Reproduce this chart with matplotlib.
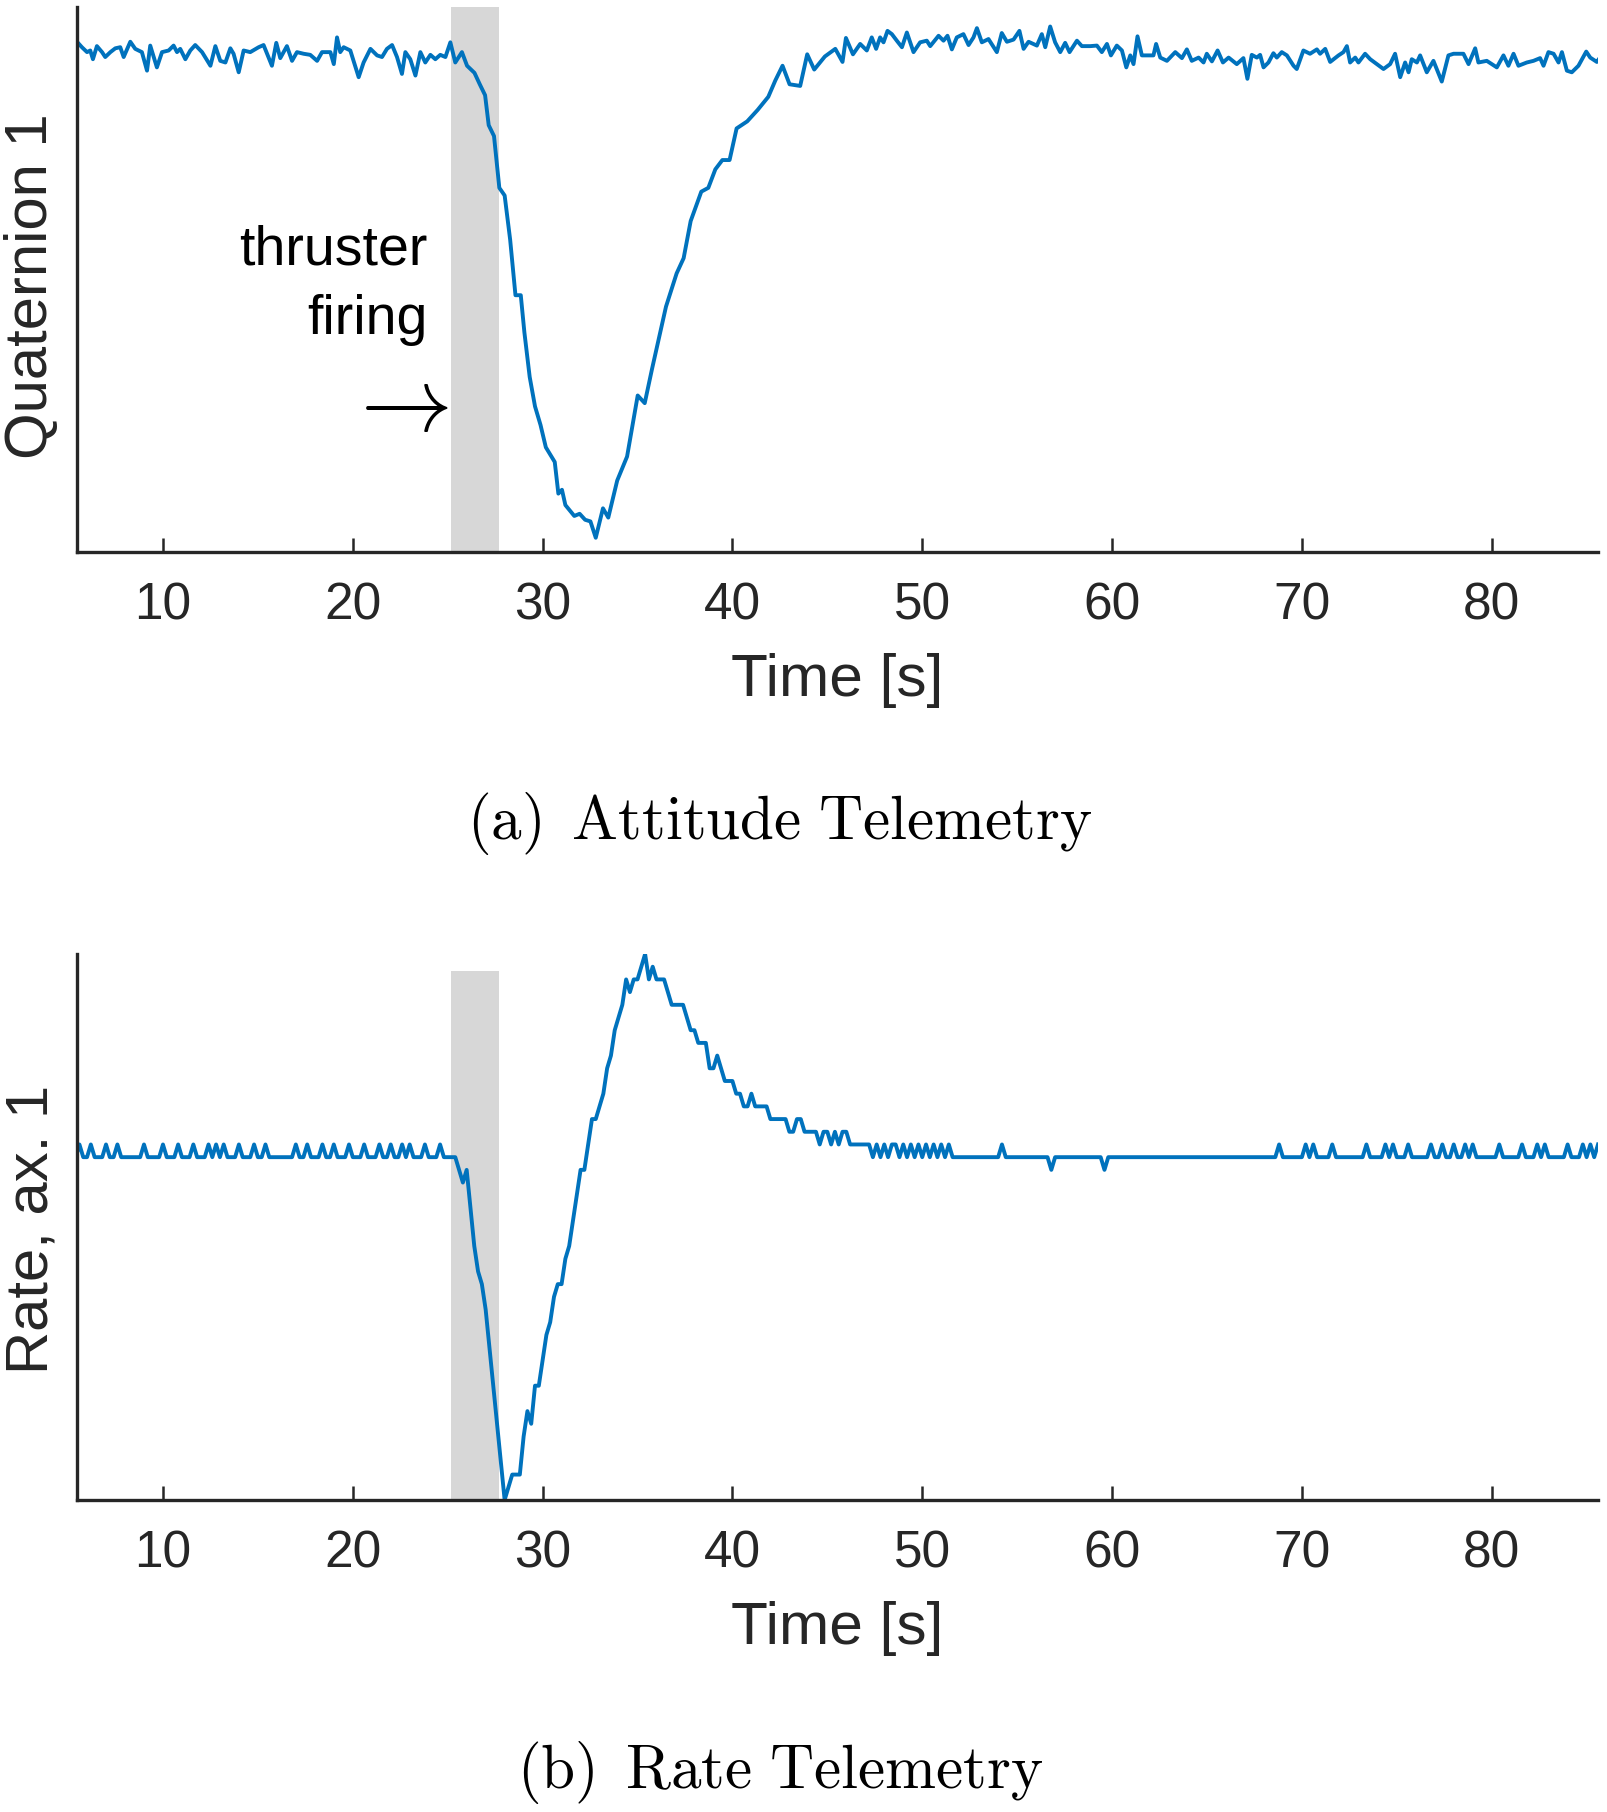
import matplotlib
matplotlib.use("Agg")
import matplotlib.pyplot as plt
import numpy as np

plt.rcParams['mathtext.fontset'] = 'cm'
plt.rcParams['font.family'] = ['Liberation Sans', 'DejaVu Sans']

# ---------------- data ----------------
x_ticks = [10, 20, 30, 40, 50, 60, 70, 80]
x_range = (5.47, 85.6)
firing_window = (25.15, 27.7)          # thruster firing interval [s]

# Attitude telemetry: quaternion 1 (arbitrary milli-units)
att_time = [
    5.47, 5.73, 6.0, 6.17, 6.31, 6.52, 6.79, 6.96, 7.23, 7.49, 7.75, 7.93, 8.28, 8.54, 8.89, 9.16,
    9.33, 9.68, 9.95, 10.3, 10.56, 10.74, 10.91, 11.18, 11.44, 11.7, 12.06, 12.5, 12.76, 13.02,
    13.29, 13.55, 13.72, 13.99, 14.25, 14.6, 15.04, 15.3, 15.74, 15.97, 16.18, 16.53, 16.8, 17.06,
    17.41, 17.76, 18.12, 18.38, 18.82, 19.0, 19.17, 19.34, 19.52, 19.87, 20.31, 20.57, 20.93,
    21.28, 21.54, 21.8, 22.07, 22.33, 22.59, 22.77, 23.03, 23.3, 23.56, 23.82, 24.09, 24.35,
    24.61, 24.88, 25.14, 25.4, 25.75, 26.02,
    26.41, 26.69, 26.97, 27.16, 27.44, 27.72, 28.0, 28.29, 28.57, 28.85, 29.04, 29.32, 29.6,
    29.89, 30.17, 30.64, 30.83, 31.02, 31.2, 31.67, 31.95, 32.24, 32.52, 32.8, 33.18, 33.46, 33.93,
    34.45, 35.01, 35.38, 35.76, 36.5, 37.06, 37.43, 37.8, 38.36, 38.73, 39.1, 39.47, 39.85, 40.22,
    40.78, 41.33, 41.89, 42.26, 42.64, 43.01, 43.57, 43.94, 44.31, 44.87, 45.42, 45.8, 45.98, 46.35,
    46.73, 47.08, 47.34, 47.57, 47.78, 47.96, 48.17, 48.4, 48.66, 48.93, 49.19, 49.54, 49.89,
    50.24, 50.42, 50.86, 51.12, 51.33, 51.56, 51.82, 52.17, 52.44, 52.7, 52.88, 53.14, 53.49,
    53.93, 54.19, 54.46, 54.81, 55.12, 55.34, 55.6, 56.04, 56.3, 56.48, 56.74, 57.0, 57.27, 57.53,
    57.76, 58.15, 58.41, 58.85, 59.2, 59.46, 59.73, 59.94, 60.25, 60.52, 60.75, 60.96, 61.13,
    61.34, 61.57, 62.18, 62.32, 62.54, 62.89, 63.33, 63.68, 63.94, 64.2, 64.56, 64.82, 64.99,
    65.26, 65.56, 65.84, 66.14,
    66.57, 66.92, 67.13, 67.36, 67.63, 67.8, 67.98, 68.24, 68.5, 68.68, 68.94, 69.21, 69.56,
    69.73, 70.08, 70.43, 70.79, 70.96, 71.23, 71.49, 71.93, 72.19, 72.37, 72.54, 72.81, 72.98,
    73.33, 73.6, 73.95, 74.3, 74.65, 74.91, 75.18, 75.44, 75.62, 75.79, 76.06, 76.23, 76.58,
    76.93, 77.37, 77.72, 77.99, 78.51, 78.78, 79.13, 79.3, 79.74, 80.27, 80.62, 80.88, 81.15,
    81.41, 81.85, 82.2, 82.55, 82.73, 82.99, 83.26, 83.52, 83.7, 83.96, 84.22, 84.57, 84.98,
    85.19, 85.54, 85.62,
]
att_q1 = [
    936, 926, 917, 920, 904, 928, 917, 908, 917, 924, 926, 908, 936, 923, 917, 883,
    929, 889, 917, 920, 929, 917, 923, 904, 920, 930, 917, 892, 928, 901,
    898, 924, 914, 880, 920, 917, 926, 930, 892, 934, 906, 928, 901, 917,
    914, 912, 901, 917, 917, 895, 944, 917, 926, 920, 871, 898, 923,
    911, 908, 923, 930, 908, 877, 917, 904, 874, 917, 898, 912, 904,
    912, 908, 935, 898, 917, 892,
    879, 858, 838, 783, 763, 668, 654, 573, 471, 471, 403, 321, 267,
    233, 192, 165, 107, 114, 86, 66, 70, 59, 56, 26, 80, 63, 131,
    175, 287, 273, 335, 450, 511, 539, 607, 661, 668, 702, 719, 719, 777,
    790, 811, 835, 865, 892, 858, 855, 913, 885, 909, 923, 899, 943, 913,
    932, 920, 944, 923, 944, 935, 956, 950, 938, 926, 953, 917, 935,
    938, 928, 947, 938, 947, 922, 944, 950, 930, 944, 961, 935, 941,
    917, 952, 936, 940, 956, 923, 936, 929, 950, 926, 964, 935, 917, 934,
    917, 938, 928, 928, 929, 917, 932, 911, 929, 920, 889, 911, 895,
    946, 911, 911, 932, 907, 901, 917, 906, 922, 901, 907, 898, 914,
    900, 920, 898, 907,
    895, 906, 868, 912, 907, 912, 889, 898, 915, 907, 917, 911, 892,
    886, 920, 914, 922, 914, 923, 899, 911, 917, 928, 898, 907, 898,
    914, 904, 895, 886, 895, 914, 871, 898, 880, 904, 898, 911, 880,
    901, 863, 911, 914, 914, 895, 924, 898, 901, 889, 911, 892, 914,
    892, 898, 901, 906, 892, 917, 914, 898, 917, 883, 880, 892, 918,
    907, 899, 903,
]
att_ylim = (0, 1000)

# Rate telemetry: axis-1 rate in sensor counts, sampled every 0.2 s from t = 5.4 s
rate_t0 = 5.4
rate_dt = 0.2
rate_counts = [
    0, 1, 0, 0, 1, 0, 0, 0, 1, 0, 0, 1, 0, 0, 0, 0, 0, 0, 1, 0,
    0, 0, 0, 1, 0, 0, 0, 1, 0, 0, 0, 1, 0, 0, 0, 1, 0, 1, 0, 1,
    0, 0, 0, 1, 0, 0, 0, 1, 0, 0, 1, 0, 0, 0, 0, 0, 0, 0, 1, 0,
    0, 1, 0, 0, 0, 1, 0, 0, 1, 0, 0, 0, 1, 0, 0, 0, 1, 0, 0, 0,
    1, 0, 0, 1, 0, 0, 1, 0, 1, 0, 0, 0, 1, 0, 0, 0, 1, 0, 0, 0,
    0, -1, -2, -1, -4, -7, -9, -10, -12, -15, -18, -21, -24, -27, -26, -25, -25, -25, -22, -20,
    -21, -18, -18, -16, -14, -13, -11, -10, -10, -8, -7, -5, -3, -1, -1, 1, 3, 3, 4, 5,
    7, 8, 10, 11, 12, 14, 13, 14, 14, 15, 16, 14, 15, 14, 14, 14, 13, 12, 12, 12,
    12, 11, 10, 10, 9, 9, 9, 7, 7, 8, 7, 6, 6, 6, 5, 5, 4, 4, 5, 4,
    4, 4, 4, 3, 3, 3, 3, 3, 2, 2, 3, 3, 2, 2, 2, 2, 1, 2, 2, 1,
    2, 1, 2, 2, 1, 1, 1, 1, 1, 1, 0, 1, 0, 1, 0, 1, 1, 0, 1, 0,
    1, 0, 1, 0, 1, 0, 1, 0, 1, 0, 1, 0, 0, 0, 0, 0, 0, 0, 0, 0,
    0, 0, 0, 0, 1, 0, 0, 0, 0, 0, 0, 0, 0, 0, 0, 0, 0, -1, 0, 0,
    0, 0, 0, 0, 0, 0, 0, 0, 0, 0, 0, -1, 0, 0, 0, 0, 0, 0, 0, 0,
    0, 0, 0, 0, 0, 0, 0, 0, 0, 0, 0, 0, 0, 0, 0, 0, 0, 0, 0, 0,
    0, 0, 0, 0, 0, 0, 0, 0, 0, 0, 0, 0, 0, 0, 0, 0, 0, 1, 0, 0,
    0, 0, 0, 0, 1, 0, 1, 0, 0, 0, 0, 1, 0, 0, 0, 0, 0, 0, 0, 0,
    1, 0, 0, 0, 0, 1, 0, 1, 0, 0, 0, 1, 0, 0, 0, 0, 0, 1, 0, 0,
    1, 0, 0, 1, 0, 0, 1, 0, 1, 0, 0, 0, 0, 0, 0, 1, 0, 0, 0, 0,
    0, 1, 0, 0, 0, 1, 0, 1, 0, 0, 0, 0, 0, 1, 0, 0, 0, 1, 0, 1,
    0, 1,
]
rate_shade_top = 14.66

# ---------------- styling ----------------
LINE = '#0072BD'
AXC = '#262626'
SHADE = '#d7d7d7'

fig = plt.figure(figsize=(16.07, 18.12), dpi=100)
ax1 = fig.add_axes([0.0479, 0.6954, 0.9465, 0.3008])
ax2 = fig.add_axes([0.0479, 0.1722, 0.9465, 0.3013])

n = min(len(att_time), len(att_q1))
ax1.axvspan(firing_window[0], firing_window[1], color=SHADE, lw=0, zorder=0)
ax1.plot(att_time[:n], att_q1[:n], color=LINE, lw=2.8, zorder=2)
ax1.set_ylim(*att_ylim)

rate = np.array(rate_counts, dtype=float)
rate_time = rate_t0 + rate_dt * np.arange(len(rate))
ax2.set_ylim(rate.min(), rate.max())
ax2.fill_between(list(firing_window), rate.min(), rate_shade_top, color=SHADE, lw=0, zorder=0)
ax2.plot(rate_time, rate, color=LINE, lw=2.8, zorder=2)

for ax in (ax1, ax2):
    for s in ('top', 'right'):
        ax.spines[s].set_visible(False)
    for s in ('left', 'bottom'):
        ax.spines[s].set_linewidth(2.4)
        ax.spines[s].set_color(AXC)
    ax.set_xlim(*x_range)
    ax.set_xticks(x_ticks)
    ax.set_yticks([])
    ax.tick_params(axis='x', direction='in', length=10, width=1.8, colors=AXC,
                   labelsize=37, pad=21)
    ax.set_xlabel('Time [s]', fontsize=43.5, color=AXC)
    ax.xaxis.set_label_coords(0.5, -0.185)

ax1.set_ylabel('Quaternion 1', fontsize=43, color=AXC)
ax1.yaxis.set_label_coords(-0.0115, 0.488)
ax2.set_ylabel('Rate, ax. 1', fontsize=43, color=AXC)
ax2.yaxis.set_label_coords(-0.0115, 0.496)

ax1.text(23.94, 489, 'thruster\nfiring', ha='right', va='center', fontsize=40,
         color='black', linespacing=1.45, multialignment='right')
ax1.text(22.27, 266, r'$\rightarrow$', ha='center', va='center', fontsize=66, color='black')

fig.text(780 / 1607, 1 - 823 / 1812, r'$\mathrm{(a)\enspace Attitude\ Telemetry}$',
         ha='center', va='center', fontsize=44, color='black')
fig.text(780 / 1607, 1 - 1773 / 1812, r'$\mathrm{(b)\enspace Rate\ Telemetry}$',
         ha='center', va='center', fontsize=44, color='black')

fig.savefig('out.png', dpi=100)
